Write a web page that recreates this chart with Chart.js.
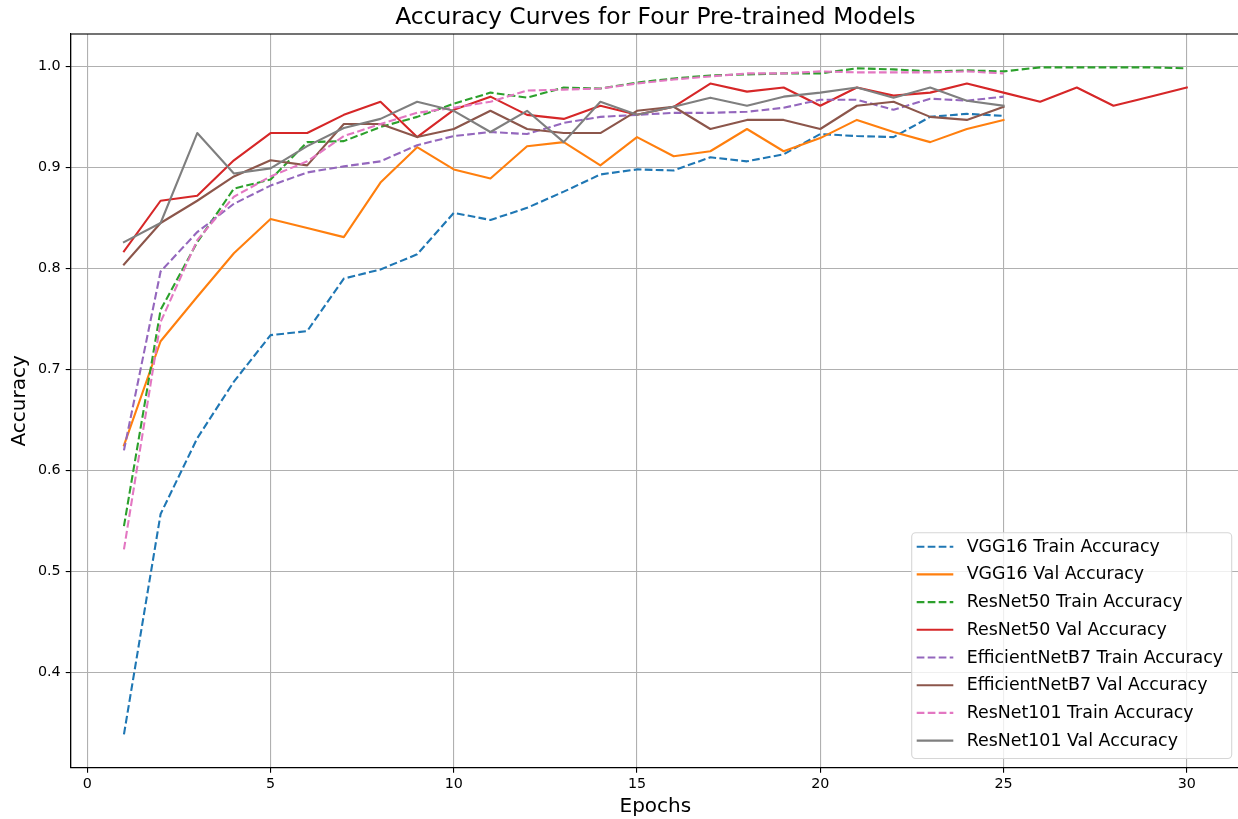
<!DOCTYPE html>
<html>
<head>
<meta charset="utf-8">
<title>Accuracy Curves</title>
<script src="https://cdn.jsdelivr.net/npm/chart.js@4.4.1/dist/chart.umd.min.js"></script>
<style>
  html, body { margin: 0; padding: 0; background: #fff; overflow: hidden; }
  canvas { display: block; }
</style>
</head>
<body>
<canvas id="accChart" width="1241" height="819"></canvas>
<script>
// epochs
const epochs25 = [1,2,3,4,5,6,7,8,9,10,11,12,13,14,15,16,17,18,19,20,21,22,23,24,25];
const epochs30 = [1,2,3,4,5,6,7,8,9,10,11,12,13,14,15,16,17,18,19,20,21,22,23,24,25,26,27,28,29,30];

// values
const vgg16Train = [0.339,0.557,0.632,0.688,0.734,0.738,0.790,0.799,0.814,0.855,0.848,0.860,0.876,0.893,0.898,0.897,0.910,0.906,0.913,0.933,0.931,0.930,0.950,0.953,0.951];
const vgg16Val = [0.625,0.728,0.772,0.815,0.849,0.840,0.831,0.885,0.920,0.898,0.889,0.921,0.925,0.902,0.930,0.911,0.916,0.938,0.916,0.929,0.947,0.935,0.925,0.938,0.947];
const resnet50Train = [0.545,0.759,0.826,0.879,0.888,0.925,0.926,0.940,0.950,0.963,0.974,0.969,0.979,0.978,0.984,0.988,0.991,0.992,0.993,0.993,0.998,0.997,0.995,0.996,0.995,0.999,0.999,0.999,0.999,0.998];
const resnet50Val = [0.817,0.867,0.872,0.907,0.934,0.934,0.952,0.965,0.930,0.957,0.970,0.952,0.948,0.961,0.952,0.960,0.983,0.975,0.979,0.961,0.979,0.971,0.974,0.983,0.974,0.965,0.979,0.961,0.970,0.979];
const effB7Train = [0.620,0.797,0.836,0.864,0.882,0.895,0.901,0.906,0.922,0.931,0.935,0.933,0.944,0.950,0.952,0.954,0.954,0.955,0.959,0.967,0.967,0.957,0.968,0.966,0.970];
const effB7Val = [0.804,0.845,0.867,0.891,0.907,0.902,0.943,0.943,0.930,0.938,0.956,0.938,0.934,0.934,0.956,0.960,0.938,0.947,0.947,0.938,0.961,0.965,0.950,0.947,0.960];
const resnet101Train = [0.522,0.747,0.828,0.871,0.891,0.906,0.931,0.943,0.954,0.959,0.965,0.976,0.977,0.978,0.983,0.987,0.990,0.993,0.993,0.995,0.994,0.994,0.994,0.995,0.993];
const resnet101Val = [0.826,0.845,0.934,0.894,0.899,0.921,0.939,0.948,0.965,0.956,0.935,0.956,0.925,0.965,0.952,0.960,0.969,0.961,0.970,0.974,0.979,0.969,0.979,0.966,0.961];

const xTicks = [0,5,10,15,20,25,30];
const yTicks = [0.4,0.5,0.6,0.7,0.8,0.9,1.0];

const FONT = '"DejaVu Sans", sans-serif';
const dash = [7.7, 3.3];

function pts(xs, ys) {
    return ys.map((v, i) => ({ x: xs[i], y: v }));
}

const series = [
    { label: 'VGG16 Train Accuracy', x: epochs25, y: vgg16Train, color: '#1f77b4', dashed: true },
    { label: 'VGG16 Val Accuracy', x: epochs25, y: vgg16Val, color: '#ff7f0e', dashed: false },
    { label: 'ResNet50 Train Accuracy', x: epochs30, y: resnet50Train, color: '#2ca02c', dashed: true },
    { label: 'ResNet50 Val Accuracy', x: epochs30, y: resnet50Val, color: '#d62728', dashed: false },
    { label: 'EfficientNetB7 Train Accuracy', x: epochs25, y: effB7Train, color: '#9467bd', dashed: true },
    { label: 'EfficientNetB7 Val Accuracy', x: epochs25, y: effB7Val, color: '#8c564b', dashed: false },
    { label: 'ResNet101 Train Accuracy', x: epochs25, y: resnet101Train, color: '#e377c2', dashed: true },
    { label: 'ResNet101 Val Accuracy', x: epochs25, y: resnet101Val, color: '#7f7f7f', dashed: false }
];

const datasets = series.map((s, i) => ({
    label: s.label,
    data: pts(s.x, s.y),
    borderColor: s.color,
    backgroundColor: s.color,
    borderWidth: 2.1,
    borderDash: s.dashed ? dash : [],
    borderCapStyle: s.dashed ? 'butt' : 'square',
    borderJoinStyle: 'round',
    pointRadius: 0,
    tension: 0,
    fill: false,
    order: series.length - 1 - i // later series on top, like matplotlib
}));

// title, frame and legend box drawn by hand
const decor = {
    id: 'decor',
    afterDatasetsDraw(chart) {
        const { ctx, chartArea: a } = chart;
        ctx.save();
        ctx.strokeStyle = '#000';
        ctx.lineWidth = 1.1;
        ctx.strokeRect(a.left, a.top, a.right - a.left, a.bottom - a.top);

        ctx.fillStyle = '#000';
        ctx.font = '23.4px ' + FONT;
        ctx.textAlign = 'center';
        ctx.textBaseline = 'middle';
        ctx.fillText('Accuracy Curves for Four Pre-trained Models', (a.left + a.right) / 2, 17.5);

        // legend, lower right inside the axes
        const bx = 911.7, by = 532.7, bw = 320, bh = 225.8, r = 4;
        ctx.beginPath();
        ctx.moveTo(bx + r, by);
        ctx.arcTo(bx + bw, by, bx + bw, by + bh, r);
        ctx.arcTo(bx + bw, by + bh, bx, by + bh, r);
        ctx.arcTo(bx, by + bh, bx, by, r);
        ctx.arcTo(bx, by, bx + bw, by, r);
        ctx.closePath();
        ctx.fillStyle = 'rgba(255,255,255,0.8)';
        ctx.fill();
        ctx.strokeStyle = '#d6d6d6';
        ctx.lineWidth = 1.1;
        ctx.stroke();

        ctx.font = '17.4px ' + FONT;
        ctx.textAlign = 'left';
        chart.data.datasets.forEach((ds, i) => {
            const yy = 546.7 + i * 27.7;
            ctx.beginPath();
            ctx.setLineDash(ds.borderDash);
            ctx.lineCap = 'butt';
            ctx.strokeStyle = ds.borderColor;
            ctx.lineWidth = ds.borderWidth;
            ctx.moveTo(916.7, yy);
            ctx.lineTo(953.3, yy);
            ctx.stroke();
            ctx.setLineDash([]);
            ctx.fillStyle = '#000';
            ctx.fillText(ds.label, 966.7, yy + 0.5);
        });
        ctx.restore();
    }
};

const gridOpts = {
    color: '#b0b0b0',
    lineWidth: 1.1,
    tickLength: 5,
    tickColor: '#000',
    tickWidth: 1.1
};

new Chart(document.getElementById('accChart'), {
    type: 'line',
    data: { datasets: datasets },
    options: {
        responsive: false,
        animation: false,
        layout: { padding: { top: 34, left: 0, right: 1, bottom: 0 } },
        plugins: {
            legend: { display: false },
            title: { display: false },
            tooltip: { enabled: false }
        },
        scales: {
            x: {
                type: 'linear',
                min: -0.453,
                max: 31.453,
                grid: gridOpts,
                border: { display: true, color: '#000', width: 1.1 },
                ticks: {
                    color: '#000',
                    font: { family: FONT, size: 14.3 },
                    padding: 3,
                    maxRotation: 0,
                    callback: (v) => String(v)
                },
                afterBuildTicks: (scale) => { scale.ticks = xTicks.map(v => ({ value: v })); },
                afterFit: (scale) => { scale.height = 51.3; },
                title: {
                    display: true,
                    text: 'Epochs',
                    color: '#000',
                    font: { family: FONT, size: 20 },
                    padding: { top: 0, bottom: 0.3 }
                }
            },
            y: {
                type: 'linear',
                min: 0.306,
                max: 1.032,
                grid: gridOpts,
                border: { display: true, color: '#000', width: 1.1 },
                ticks: {
                    color: '#000',
                    font: { family: FONT, size: 14.3 },
                    padding: 5,
                    callback: (v) => v.toFixed(1)
                },
                afterBuildTicks: (scale) => { scale.ticks = yTicks.map(v => ({ value: v })); },
                afterFit: (scale) => { scale.width = 70.7; },
                title: {
                    display: true,
                    text: 'Accuracy',
                    color: '#000',
                    font: { family: FONT, size: 20 },
                    padding: { top: 7.5, bottom: 0 }
                }
            }
        }
    },
    plugins: [decor]
});
</script>
</body>
</html>
